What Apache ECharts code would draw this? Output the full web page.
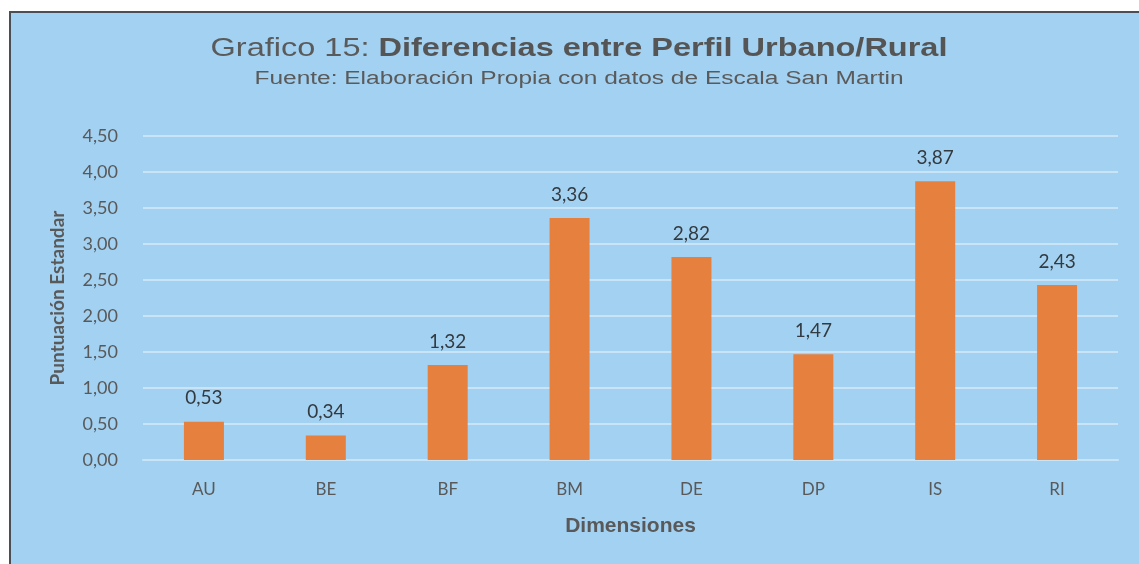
<!DOCTYPE html>
<html>
<head>
<meta charset="utf-8">
<script src="https://cdn.jsdelivr.net/npm/echarts@6/dist/echarts.min.js"></script>
<style>
  html, body { margin: 0; padding: 0; background: #fff; }
  #chart { width: 1139px; height: 564px; }
</style>
</head>
<body>
<div id="chart"></div>
<script>
// Data
const categories = ['AU', 'BE', 'BF', 'BM', 'DE', 'DP', 'IS', 'RI'];
const scores = [0.53, 0.34, 1.32, 3.36, 2.82, 1.47, 3.87, 2.43];
const yMax = 4.5;
const yStep = 0.5;

const fmt = v => v.toFixed(2).replace('.', ',');

const chart = echarts.init(document.getElementById('chart'));
chart.setOption({
    backgroundColor: '#ffffff',
    animation: false,
    graphic: [
        {
            type: 'rect', z: -10,
            shape: { x: 10, y: 12, width: 1140, height: 560 },
            style: { fill: '#a3d1f1', stroke: '#4a4f55', lineWidth: 2 }
        },
        // title text is letter-spaced in the original, so stretch it a bit
        {
            type: 'text', x: 579, y: 49, scaleX: 1.25,
            style: {
                text: '{a|Grafico 15: }{b|Diferencias entre Perfil Urbano/Rural}',
                align: 'center', verticalAlign: 'middle',
                rich: {
                    a: { fontFamily: 'Liberation Sans', fontSize: 26, fill: '#5a5a5a' },
                    b: { fontFamily: 'Liberation Sans', fontSize: 26, fontWeight: 'bold', fill: '#555555' }
                }
            }
        },
        {
            type: 'text', x: 579, y: 79, scaleX: 1.36,
            style: {
                text: 'Fuente: Elaboración Propia con datos de Escala San Martin',
                align: 'center', verticalAlign: 'middle',
                fontFamily: 'Liberation Sans', fontSize: 18, fill: '#5a5a5a'
            }
        }
    ],
    grid: { left: 143, right: 21, top: 136, bottom: 104 },
    xAxis: {
        type: 'category',
        data: categories,
        name: 'Dimensiones',
        nameLocation: 'middle',
        nameGap: 56,
        nameTextStyle: { fontFamily: 'Liberation Sans', fontSize: 21, fontWeight: 'bold', color: '#595959' },
        axisLine: { show: true, lineStyle: { color: '#c9e4f7', width: 2 } },
        axisTick: { show: false },
        axisLabel: { fontFamily: 'Lato', fontSize: 17, color: '#595959', margin: 21 }
    },
    yAxis: {
        type: 'value',
        min: 0, max: yMax, interval: yStep,
        name: 'Puntuación Estandar',
        nameLocation: 'middle',
        nameGap: 76,
        nameTextStyle: { fontFamily: 'Lato', fontSize: 19, fontWeight: 'bold', color: '#595959' },
        axisLine: { show: false },
        axisTick: { show: false },
        axisLabel: { fontFamily: 'Lato', fontSize: 18, color: '#595959', margin: 25, formatter: v => fmt(v) },
        splitLine: { lineStyle: { color: '#c9e4f7', width: 2 } }
    },
    series: [{
        type: 'bar',
        data: scores,
        barWidth: 40,
        itemStyle: { color: '#e5803f' },
        label: {
            show: true, position: 'top', distance: 14,
            fontFamily: 'Lato', fontSize: 19, color: '#333a40',
            formatter: p => fmt(p.value)
        }
    }]
});
</script>
</body>
</html>
